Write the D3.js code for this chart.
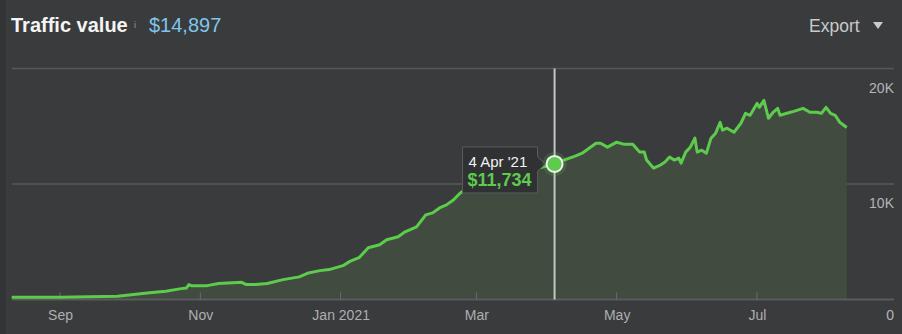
<!DOCTYPE html>
<html>
<head>
<meta charset="utf-8">
<script src="https://cdn.jsdelivr.net/npm/d3@7"></script>
<style>
  body { margin: 0; background: #333436; }
  svg { display: block; font-family: "Liberation Sans", Arial, sans-serif; }
</style>
</head>
<body>
<div id="chart"></div>
<script>
// traffic value per day
const dates = ["2020-08-11","2020-09-01","2020-09-26","2020-10-03","2020-10-10","2020-10-17","2020-10-23","2020-10-26","2020-10-27","2020-10-28",
  "2020-11-04","2020-11-09","2020-11-19","2020-11-21","2020-11-25","2020-11-30","2020-12-07","2020-12-14","2020-12-18","2020-12-23",
  "2020-12-27","2021-01-02","2021-01-05","2021-01-09","2021-01-13","2021-01-18","2021-01-21","2021-01-26","2021-01-29","2021-02-03",
  "2021-02-07","2021-02-10","2021-02-13","2021-02-16","2021-02-19","2021-02-22","2021-02-24","2021-03-01","2021-03-10","2021-03-20",
  "2021-03-28","2021-04-04","2021-04-08","2021-04-12","2021-04-14","2021-04-16","2021-04-19","2021-04-22","2021-04-24","2021-04-27",
  "2021-05-01","2021-05-04","2021-05-08","2021-05-11","2021-05-13","2021-05-14","2021-05-17","2021-05-20","2021-05-22","2021-05-24",
  "2021-05-26","2021-05-28","2021-05-29","2021-05-31","2021-06-02","2021-06-04","2021-06-05","2021-06-07","2021-06-09","2021-06-11",
  "2021-06-13","2021-06-15","2021-06-16","2021-06-18","2021-06-21","2021-06-24","2021-06-26","2021-06-28","2021-07-01","2021-07-02",
  "2021-07-04","2021-07-06","2021-07-08","2021-07-10","2021-07-11","2021-07-14","2021-07-17","2021-07-21","2021-07-24","2021-07-27",
  "2021-07-29","2021-07-31","2021-08-02","2021-08-04","2021-08-06","2021-08-09"];
const values = [200,200,280,430,580,720,920,1000,1290,1200,
  1200,1380,1490,1290,1290,1380,1720,1960,2300,2500,
  2590,2930,3300,3620,4480,4740,5170,5430,5860,6290,
  7330,7500,7930,8190,8620,9220,9480,10000,10500,11000,
  11380,11734,12070,12350,12500,12670,13100,13530,13530,13190,
  13620,13450,13450,12760,12760,12070,11380,11640,11900,12330,
  12070,12240,11810,12760,13190,13970,12760,12930,12670,13970,
  14400,15340,14660,14830,14480,15260,16120,15950,16980,16640,
  17240,15690,16210,16550,15950,16120,16290,16550,16210,16210,
  16120,16640,16120,15950,15340,14897];

const tickDates = ["2020-09-01","2020-11-01","2021-01-01","2021-03-01","2021-05-01","2021-07-01"];
const tickLabels = ["Sep","Nov","Jan 2021","Mar","May","Jul"];
const yTicks = [10000, 20000];
const yLabels = ["10K", "20K"];

const title = "Traffic value";
const total = "$14,897";
const hoverDate = "2021-04-04";
const hoverLabel = "4 Apr '21";
const hoverValue = "$11,734";

const width = 902, height = 334;
const margin = {top: 68, right: 8, bottom: 35, left: 12};
const parse = d3.timeParse("%Y-%m-%d");

const data = dates.map((d, i) => ({date: parse(d), value: values[i]}));

const svg = d3.select("#chart").append("svg")
  .attr("width", width).attr("height", height);

svg.append("rect").attr("width", width).attr("height", height).attr("fill", "#333436");
svg.append("rect").attr("x", 6).attr("y", 0).attr("width", width - 6).attr("height", height).attr("fill", "#3a3b3d");

// x scale fixed so Sep 1 sits at 60 and Jul 1 at 757
const x = d3.scaleTime()
  .domain([parse("2020-09-01"), parse("2021-07-01")])
  .range([60, 757]);
const y = d3.scaleLinear().domain([0, 20000]).range([299.5, 68.5]);

const plotRight = 894;

// gridlines
svg.selectAll(".grid").data(yTicks).enter().append("line")
  .attr("x1", margin.left).attr("x2", plotRight)
  .attr("y1", d => y(d)).attr("y2", d => y(d))
  .attr("stroke", "#57585a").attr("stroke-width", 1.5);

// y labels on right
svg.selectAll(".ylab").data(yTicks).enter().append("text")
  .attr("x", plotRight).attr("y", d => y(d) + 24)
  .attr("text-anchor", "end").attr("fill", "#b4b5b7")
  .attr("font-size", 14).text((d, i) => yLabels[i]);
svg.append("text").attr("x", plotRight).attr("y", 320)
  .attr("text-anchor", "end").attr("fill", "#b4b5b7").attr("font-size", 14).text("0");

// area + line
const area = d3.area().x(d => x(d.date)).y0(y(0)).y1(d => y(d.value));
const line = d3.line().x(d => x(d.date)).y(d => y(d.value));

svg.append("path").datum(data).attr("d", area).attr("fill", "#414b40");

// axis baseline
svg.append("line").attr("x1", margin.left).attr("x2", plotRight)
  .attr("y1", y(0)).attr("y2", y(0)).attr("stroke", "#5a5b5d").attr("stroke-width", 2);

// bottom axis
const xAxis = d3.axisBottom(x)
  .tickValues(tickDates.map(parse))
  .tickFormat((d, i) => tickLabels[i])
  .tickSize(0).tickPadding(11);
const gx = svg.append("g").attr("transform", "translate(0," + y(0) + ")").call(xAxis);
gx.select(".domain").remove();
gx.selectAll("text").attr("fill", "#adaeb0").attr("font-size", 14)
  .attr("font-family", "Liberation Sans, Arial, sans-serif");
svg.selectAll(".tk").data(tickDates).enter().append("line")
  .attr("x1", d => x(parse(d))).attr("x2", d => x(parse(d)))
  .attr("y1", y(0) - 7).attr("y2", y(0)).attr("stroke", "#6a6c6e").attr("stroke-width", 1);

svg.append("path").datum(data).attr("d", line)
  .attr("fill", "none").attr("stroke", "#5dcb4c").attr("stroke-width", 3)
  .attr("stroke-linejoin", "round");

// hover crosshair
const hx = x(parse(hoverDate));
const hv = values[dates.indexOf(hoverDate)];
svg.append("line").attr("x1", hx).attr("x2", hx).attr("y1", y(20000)).attr("y2", y(0))
  .attr("stroke", "#c4c5c7").attr("stroke-width", 2);

// tooltip
const tipR = hx - 17, tipL = hx - 92, tipT = y(hv) - 17, tipB = y(hv) + 29;
svg.append("path")
  .attr("d", `M${tipL},${tipT} H${tipR} V${y(hv) - 7} L${hx - 9},${y(hv)} L${tipR},${y(hv) + 7} V${tipB} H${tipL} Z`)
  .attr("fill", "#303133").attr("stroke", "#5b5c5e").attr("stroke-width", 1);
svg.append("text").attr("x", tipL + 6).attr("y", tipT + 20)
  .attr("fill", "#f2f2f2").attr("font-size", 15).text(hoverLabel);
svg.append("text").attr("x", tipL + 5).attr("y", tipT + 39)
  .attr("fill", "#5dcb4c").attr("font-size", 18).attr("font-weight", "bold").text(hoverValue);

svg.append("circle").attr("cx", hx).attr("cy", y(hv)).attr("r", 12)
  .attr("fill", "#5dcb4c").attr("opacity", 0.18);
svg.append("circle").attr("cx", hx).attr("cy", y(hv)).attr("r", 8)
  .attr("fill", "#5dcb4c").attr("stroke", "#f0f0f0").attr("stroke-width", 2);

// header
svg.append("text").attr("x", 11).attr("y", 32)
  .attr("fill", "#f4f4f4").attr("font-size", 20).attr("font-weight", "bold").text(title);
svg.append("text").attr("x", 134).attr("y", 28)
  .attr("fill", "#9a9b9d").attr("font-size", 9).text("i");
svg.append("text").attr("x", 149).attr("y", 32)
  .attr("fill", "#7ec6ec").attr("font-size", 20).text(total);
svg.append("text").attr("x", 809).attr("y", 32)
  .attr("fill", "#c9cacc").attr("font-size", 17.5).text("Export");
svg.append("path").attr("d", "M873,22 L883,22 L878,29 Z").attr("fill", "#c9cacc");
</script>
</body>
</html>
